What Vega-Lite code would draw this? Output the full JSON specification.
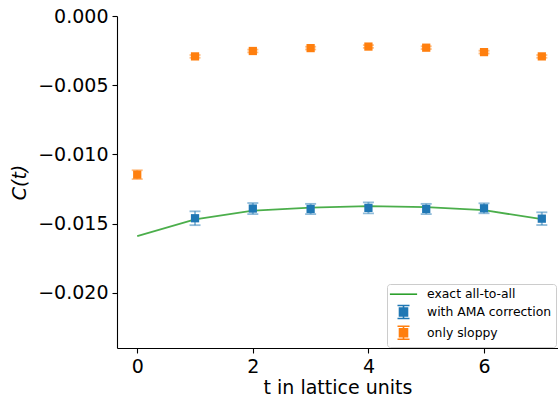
{
  "$schema": "https://vega.github.io/schema/vega-lite/v6.json",
  "autosize": {"type": "none"},
  "width": 441,
  "height": 332,
  "padding": {"left": 117, "top": 16, "right": 0, "bottom": 49},
  "background": "white",
  "config": {
    "view": {"stroke": null},
    "font": "DejaVu Sans",
    "axis": {
      "grid": false,
      "labelFont": "DejaVu Sans",
      "labelFontSize": 19,
      "labelColor": "black",
      "tickColor": "black",
      "tickSize": 5,
      "tickWidth": 1.1,
      "domainColor": "black",
      "domainWidth": 1.1,
      "titleFont": "DejaVu Sans",
      "titleFontSize": 19,
      "titleFontWeight": "normal",
      "titleColor": "black",
      "labelPadding": 4
    }
  },
  "datasets": {
    "pts": [
      {"t": 1, "C": -0.01462, "err": 0.0005, "series": "with AMA correction"},
      {"t": 2, "C": -0.01392, "err": 0.0004, "series": "with AMA correction"},
      {"t": 3, "C": -0.01395, "err": 0.00037, "series": "with AMA correction"},
      {"t": 4, "C": -0.01387, "err": 0.0004, "series": "with AMA correction"},
      {"t": 5, "C": -0.01395, "err": 0.00037, "series": "with AMA correction"},
      {"t": 6, "C": -0.0139, "err": 0.00036, "series": "with AMA correction"},
      {"t": 7, "C": -0.01465, "err": 0.00046, "series": "with AMA correction"},
      {"t": 0, "C": -0.01147, "err": 0.00032, "series": "only sloppy"},
      {"t": 1, "C": -0.00292, "err": 0.0001, "series": "only sloppy"},
      {"t": 2, "C": -0.00253, "err": 0.0001, "series": "only sloppy"},
      {"t": 3, "C": -0.00232, "err": 0.0001, "series": "only sloppy"},
      {"t": 4, "C": -0.00221, "err": 0.0001, "series": "only sloppy"},
      {"t": 5, "C": -0.00229, "err": 0.0001, "series": "only sloppy"},
      {"t": 6, "C": -0.00261, "err": 0.0001, "series": "only sloppy"},
      {"t": 7, "C": -0.00292, "err": 0.0001, "series": "only sloppy"}
    ],
    "exact": [
      {"t": 0, "C": -0.01592, "series": "exact all-to-all"},
      {"t": 1, "C": -0.0147, "series": "exact all-to-all"},
      {"t": 2, "C": -0.01407, "series": "exact all-to-all"},
      {"t": 3, "C": -0.01385, "series": "exact all-to-all"},
      {"t": 4, "C": -0.01375, "series": "exact all-to-all"},
      {"t": 5, "C": -0.01382, "series": "exact all-to-all"},
      {"t": 6, "C": -0.01404, "series": "exact all-to-all"},
      {"t": 7, "C": -0.01469, "series": "exact all-to-all"}
    ]
  },
  "encoding": {
    "x": {
      "field": "t",
      "type": "quantitative",
      "scale": {"domain": [-0.35, 7.28], "nice": false, "zero": false},
      "axis": {"values": [0, 2, 4, 6], "format": "d", "title": "t in lattice units", "titlePadding": 2}
    },
    "y": {
      "field": "C",
      "type": "quantitative",
      "scale": {"domain": [-0.024, 0], "nice": false, "zero": false},
      "axis": {"values": [-0.02, -0.015, -0.01, -0.005, 0], "format": ".3f", "title": "C(t)", "titleFontStyle": "italic", "titlePadding": 8}
    }
  },
  "layer": [
    {
      "data": {"name": "exact"},
      "mark": {"type": "line", "strokeWidth": 1.8, "opacity": 0.85},
      "encoding": {
        "color": {
          "field": "series",
          "type": "nominal",
          "scale": {"domain": ["exact all-to-all", "with AMA correction", "only sloppy"], "range": ["#2ca02c", "#1f77b4", "#ff7f0e"]}
        }
      }
    },
    {
      "data": {"name": "pts"},
      "mark": {"type": "errorbar", "thickness": 2, "ticks": {"size": 11, "thickness": 1.8, "opacity": 0.5}, "rule": {"strokeWidth": 2, "opacity": 0.5}},
      "encoding": {
        "yError": {"field": "err"},
        "color": {"field": "series", "type": "nominal"}
      }
    },
    {
      "data": {"name": "pts"},
      "mark": {"type": "square", "size": 68, "opacity": 1},
      "encoding": {
        "color": {"field": "series", "type": "nominal"}
      }
    },
    {
      "data": {"name": "pts"},
      "mark": {"type": "point", "filled": true, "opacity": 0},
      "encoding": {
        "color": {
          "field": "series",
          "type": "nominal",
          "legend": {
            "title": null,
            "orient": "none",
            "legendX": 270,
            "legendY": 268,
            "fillColor": "white",
            "strokeColor": "#cccccc",
            "cornerRadius": 3,
            "padding": 4,
            "symbolSize": 100,
            "symbolStrokeWidth": 1.6,
            "symbolOffset": 6.3,
            "labelOffset": 17.3,
            "labelFont": "DejaVu Sans",
            "labelFontSize": 12.4,
            "labelColor": "black",
            "rowPadding": 0.8,
            "encode": {
              "symbols": {
                "update": {
                  "fill": {"scale": "color", "field": "value"},
                  "stroke": {"scale": "color", "field": "value"},
                  "opacity": {"value": 1},
                  "fillOpacity": {"value": 1},
                  "strokeOpacity": {"value": 1},
                  "strokeWidth": {"value": 1.6},
                  "size": {"value": 100}
                }
              }
            }
          }
        },
        "shape": {
          "field": "series",
          "type": "nominal",
          "scale": {
            "domain": ["exact all-to-all", "with AMA correction", "only sloppy"],
            "range": [
              "M-2.72,0H2.72",
              "M-1.2,-1.3H1.2M0,-1.3V1.3M-1.2,1.3H1.2M-0.8,-0.8H0.8V0.8H-0.8Z",
              "M-1.2,-1.3H1.2M0,-1.3V1.3M-1.2,1.3H1.2M-0.8,-0.8H0.8V0.8H-0.8Z"
            ]
          },
          "legend": {
            "title": null,
            "orient": "none",
            "legendX": 270,
            "legendY": 268
          }
        }
      }
    },
    {
      "data": {"values": [{"top": 0}]},
      "mark": {"type": "rule", "color": "black", "strokeWidth": 1.1},
      "encoding": {"y": {"datum": 0}, "x": null}
    }
  ]
}
